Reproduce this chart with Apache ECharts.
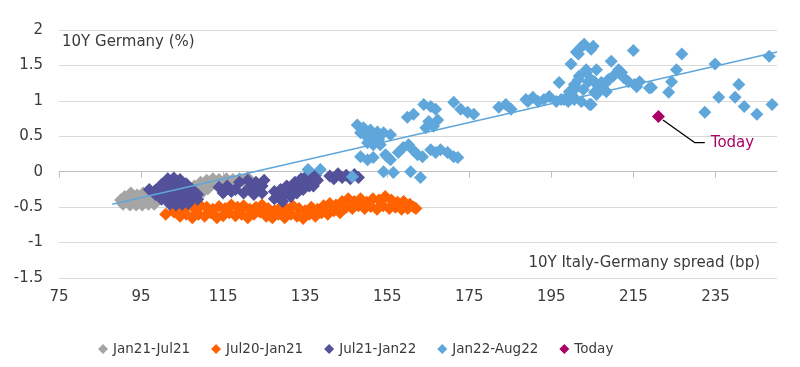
<!DOCTYPE html>
<html>
<head>
<meta charset="utf-8">
<script src="https://cdn.jsdelivr.net/npm/echarts@6/dist/echarts.min.js"></script>
<style>html,body{margin:0;padding:0;background:#fff}#c{width:800px;height:367px}</style>
</head>
<body>
<div id="c"></div>
<script>
// ---- data ----
const xTicks = [75, 95, 115, 135, 155, 175, 195, 215, 235];
const seriesNames = ['Jan21-Jul21', 'Jul20-Jan21', 'Jul21-Jan22', 'Jan22-Aug22', 'Today'];

const jan21Jul21 = [
  [90,-0.40],[90.6,-0.46],[91,-0.35],[91.8,-0.42],[92.3,-0.47],[92.5,-0.30],[93.3,-0.40],[93.8,-0.47],
  [94,-0.33],[94.8,-0.44],[95.3,-0.47],[95.5,-0.30],[96.3,-0.38],[96.8,-0.46],[97,-0.28],[97.5,-0.42],
  [98.2,-0.46],[98.5,-0.30],[99.5,-0.35],[100.5,-0.25],[102,-0.30],[104,-0.22],[106,-0.25],
  [108,-0.20],[109.5,-0.15],[109.8,-0.24],[110.2,-0.28],[111,-0.12],[111.3,-0.24],[111.8,-0.20],[112.5,-0.10],
  [113.3,-0.18],[114,-0.11],[115,-0.17],[115.8,-0.10],[116.6,-0.19],[117.4,-0.11],[118.2,-0.16],[119,-0.10],
  [120,-0.13],[121,-0.08]
];
const jul20Jan21 = [
  [105,-0.50],[106.5,-0.47],[108,-0.52],[109.5,-0.48],[111,-0.50],[112.5,-0.53],[114,-0.49],[115.5,-0.52],
  [117,-0.47],[118.5,-0.50],[120,-0.48],[121.5,-0.53],[123,-0.50],[124.5,-0.47],[126,-0.52],[127.5,-0.55],
  [129,-0.50],[130.5,-0.53],[132,-0.48],[133.5,-0.52],[135,-0.55],[136.5,-0.50],[138,-0.53],[139.5,-0.48],
  [141,-0.45],[142.5,-0.47],[144,-0.42],[145.5,-0.38],[147,-0.42],[148.5,-0.38],[150,-0.43],[151.5,-0.38],
  [153,-0.40],[154.5,-0.35],[156,-0.40],[157.5,-0.43],[159,-0.42],[160.5,-0.46],
  [101,-0.60],[103,-0.57],[104.5,-0.63],[106,-0.60],[107.5,-0.65],[109,-0.60],[110.5,-0.63],[112,-0.58],
  [113.5,-0.65],[115,-0.62],[116.5,-0.58],[118,-0.62],[119.5,-0.60],[121,-0.65],[122.5,-0.60],[124,-0.57],
  [125.5,-0.63],[127,-0.65],[128.5,-0.60],[130,-0.65],[131.5,-0.60],[133,-0.63],[134.5,-0.66],[136,-0.60],
  [137.5,-0.63],[139,-0.58],[140.5,-0.60],[142,-0.55],[143.5,-0.58],[145,-0.50],[146.5,-0.52],[148,-0.48],
  [149.5,-0.52],[151,-0.49],[152.5,-0.53],[154,-0.48],[155.5,-0.52],[157,-0.50],[158.5,-0.53],[160,-0.52],
  [161.5,-0.50],[162,-0.52]
];
const jul21Jan22 = [
  [101.5,-0.10],[103,-0.09],[104.5,-0.11],
  [100,-0.18],[101.5,-0.19],[103,-0.17],[104.5,-0.19],[106,-0.17],
  [97,-0.25],[98.5,-0.26],[100,-0.24],[101.5,-0.26],[103,-0.25],[104.5,-0.24],[106,-0.26],[107.5,-0.25],
  [98.5,-0.32],[100,-0.33],[101.5,-0.31],[103,-0.33],[104.5,-0.32],[106,-0.31],[107.5,-0.33],[108.8,-0.32],
  [100,-0.39],[101.5,-0.40],[103,-0.38],[104.5,-0.40],[106,-0.39],[107.5,-0.38],[108.8,-0.39],
  [102,-0.46],[103.5,-0.47],[105,-0.46],[106.5,-0.45],
  [114,-0.22],[115,-0.30],[116,-0.20],[117,-0.28],[118,-0.25],[119,-0.15],[120,-0.30],[121,-0.12],
  [121.5,-0.22],[122.5,-0.32],[123,-0.15],[123.5,-0.25],[124.5,-0.20],[124.5,-0.30],[125,-0.12],
  [127.5,-0.28],[127.5,-0.38],[129,-0.33],[129,-0.25],[129.5,-0.42],[130.5,-0.30],[130.5,-0.20],[131.5,-0.35],
  [132,-0.25],[132.5,-0.15],[133,-0.30],[133.5,-0.20],[134,-0.10],[134.5,-0.25],[135,-0.15],[135.5,-0.05],
  [136,-0.20],[136.5,-0.10],[137,-0.20],[137.5,-0.05],[138,-0.12],
  [141,-0.06],[142,-0.10],[143,-0.03],[144,-0.08],[145,-0.05],[146,-0.10],[147,-0.04],[148,-0.08]
];
const jan22Aug22 = [
  [135.7,0.03],[138.7,0.03],[146.5,-0.07],
  [147.7,0.66],[149.2,0.62],[150.9,0.59],[152.6,0.56],[154.1,0.55],[155.8,0.52],[151.4,0.48],[152.9,0.45],
  [151.6,0.38],[153.3,0.38],[150.2,0.41],[149.5,0.52],[148.5,0.55],
  [148.5,0.21],[150.2,0.17],[151.6,0.20],[154.6,0.24],[155.8,0.17],[157.7,0.27],[158.9,0.34],[160.2,0.38],
  [161.2,0.31],[162.4,0.24],[163.6,0.21],[165.6,0.31],[166.8,0.27],[168.0,0.31],[169.7,0.27],[171.2,0.21],
  [172.2,0.20],[155.0,0.21],
  [154.1,0.00],[156.5,-0.01],[160.7,0.00],[163.1,-0.08],
  [159.9,0.77],[161.4,0.81],[163.9,0.95],[165.6,0.92],[166.8,0.88],[167.3,0.73],[165.1,0.71],[164.4,0.62],
  [166.3,0.64],[171.2,0.98],[172.9,0.88],[174.6,0.84],[176.1,0.81],
  [182.2,0.91],[183.9,0.95],[185.2,0.88],[188.8,1.02],[189.3,0.99],[190.5,1.05],[191.8,0.99],[193.2,1.02],
  [194.5,1.06],[196.2,0.99],[196.9,1.26],[197.4,1.02],[198.1,1.02],[199.1,0.99],[199.8,1.09],[200.6,1.02],
  [201.1,1.69],[202.3,1.76],[199.8,1.52],[201.8,1.35],[201.1,1.19],[203.5,1.44],[204.0,1.27],[202.3,0.99],
  [204.3,0.95],[201.6,1.66],[203.0,1.80],[204.7,1.73],[205.2,1.77],[201.6,1.30],[203.5,1.40],[200.6,1.23],
  [199.4,1.13],[200.3,1.06],[202.8,1.16],[206.0,1.44],[205.5,1.27],[206.5,1.20],[207.2,1.26],[207.9,1.16],
  [206.0,1.09],[208.9,1.30],[209.6,1.56],[211.4,1.44],[212.1,1.40],[212.6,1.33],[213.8,1.27],[215.3,1.23],
  [216.5,1.27],[215.0,1.71],[219.4,1.19],[223.6,1.12],[224.3,1.27],[225.5,1.44],[226.8,1.66],[234.9,1.52],
  [232.4,0.84],[235.8,1.05],[239.8,1.05],[240.7,1.23],[242.0,0.92],[245.1,0.81],[248.1,1.63],[248.8,0.95],
  [210.1,1.35],[218.9,1.18],[215.8,1.20],[204.7,0.95],[208.4,1.13],[205.5,1.12],[208.4,1.26],[204.7,1.30]
];
const today = [[221.1, 0.78]];
const trendLine = [[88, -0.46], [250, 1.69]];
const todayLeader = [[222.2, 0.73], [230.0, 0.41], [232.4, 0.41]];

const colors = ['#A5A5A5', '#FF6200', '#525199', '#5FA6DB', '#AB0066'];
const FONT = 'DejaVu Sans';
const TXT = '#3a3a3a';

const chart = echarts.init(document.getElementById('c'), null, {renderer: 'canvas'});
const scatter = (name, data, color) => ({
  name, type: 'scatter', data, symbol: 'diamond', symbolSize: 13,
  itemStyle: {color, opacity: 1}, xAxisIndex: 0, yAxisIndex: 0, animation: false
});

chart.setOption({
  animation: false,
  textStyle: {fontFamily: FONT},
  grid: {left: 59, right: 23, top: 30, bottom: 89},
  legend: {
    data: seriesNames, left: 93, top: 337, itemWidth: 10, itemHeight: 10, itemGap: 21,
    icon: 'diamond', textStyle: {fontFamily: FONT, fontSize: 13.5, color: TXT}
  },
  xAxis: [{
    type: 'value', min: 75, max: 250, position: 'bottom',
    axisLine: {show: false, onZero: false}, axisTick: {show: false}, splitLine: {show: false},
    axisLabel: {customValues: xTicks, fontFamily: FONT, fontSize: 15, color: TXT, margin: 12}
  }, {
    type: 'value', min: 75, max: 250, position: 'bottom',
    axisLine: {show: true, onZero: true, lineStyle: {color: '#BFBFBF', width: 1}},
    axisTick: {show: true, customValues: xTicks, length: 6, lineStyle: {color: '#BFBFBF'}},
    axisLabel: {show: false}, splitLine: {show: false}
  }],
  yAxis: {
    type: 'value', min: -1.5, max: 2, interval: 0.5,
    axisLine: {show: false}, axisTick: {show: false},
    splitLine: {lineStyle: {color: '#D9D9D9', width: 1}},
    axisLabel: {fontFamily: FONT, fontSize: 15, color: TXT, margin: 16}
  },
  graphic: [
    {type: 'text', left: 62, top: 35, style: {text: '10Y Germany (%)', font: '15px "DejaVu Sans"', fill: TXT}},
    {type: 'text', right: 40, top: 256, style: {text: '10Y Italy-Germany spread (bp)', font: '15px "DejaVu Sans"', fill: TXT}}
  ],
  series: [
    scatter(seriesNames[0], jan21Jul21, colors[0]),
    scatter(seriesNames[1], jul20Jan21, colors[1]),
    scatter(seriesNames[2], jul21Jan22, colors[2]),
    scatter(seriesNames[3], jan22Aug22, colors[3]),
    {
      name: 'trend', type: 'line', data: trendLine, symbol: 'none', z: 5,
      lineStyle: {color: '#5FA6DB', width: 1.5}, silent: true
    },
    {
      name: 'leader', type: 'line', data: todayLeader, symbol: 'none', z: 5,
      lineStyle: {color: '#000', width: 1.3},
      endLabel: {show: true, formatter: 'Today', color: '#AB0066', fontFamily: FONT, fontSize: 15, distance: 6}
    },
    Object.assign(scatter(seriesNames[4], today, colors[4]), {z: 6})
  ]
});
</script>
</body>
</html>
